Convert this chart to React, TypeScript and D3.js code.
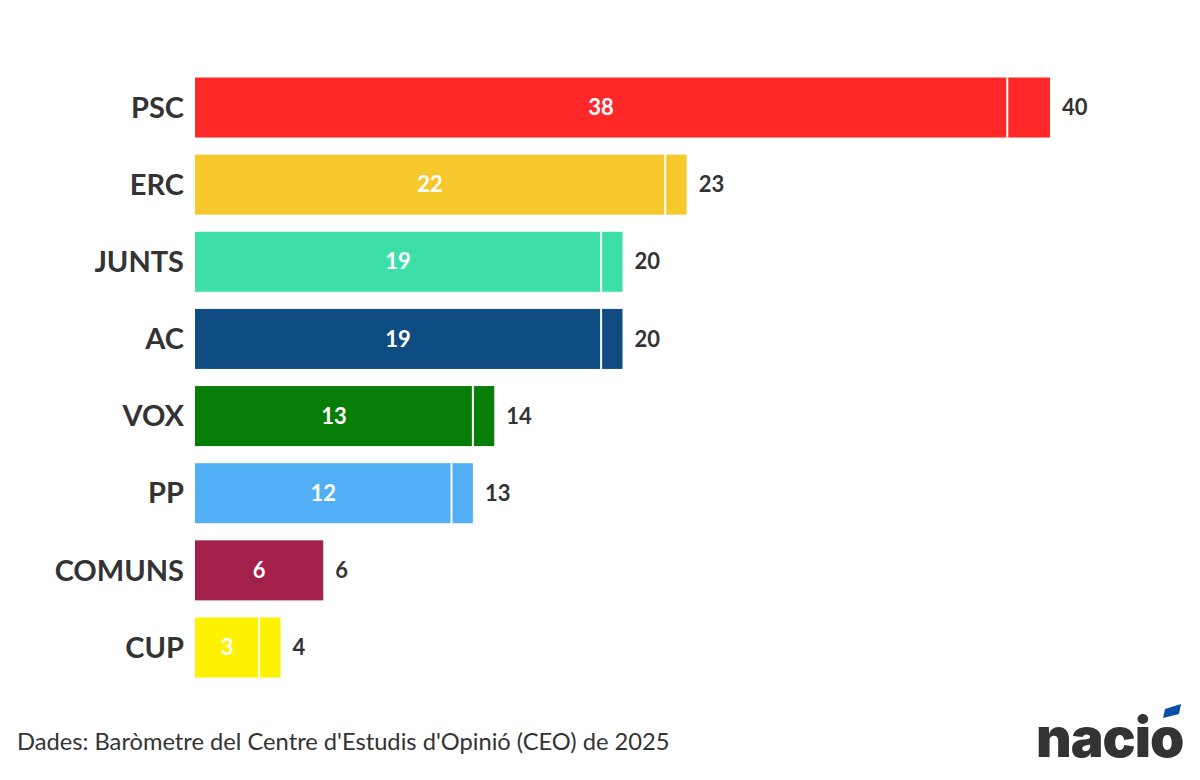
import * as d3 from "d3";
import { useEffect, useRef } from "react";

const parties = ["PSC", "ERC", "JUNTS", "AC", "VOX", "PP", "COMUNS", "CUP"];
const minSeats = [38, 22, 19, 19, 13, 12, 6, 3];
const maxSeats = [40, 23, 20, 20, 14, 13, 6, 4];
const colors = ["#fe2828", "#f5c92c", "#3ddfa9", "#0f4c81", "#067d06", "#52aef5", "#a3204a", "#fff200"];
const source = "Dades: Baròmetre del Centre d'Estudis d'Opinió (CEO) de 2025";

const App = () => {
  const svgRef = useRef<SVGSVGElement | null>(null);

  useEffect(() => {
    if (!svgRef.current) return;

    const width = 1200;
    const height = 780;
    const margin = { top: 77.5, bottom: 102.5, left: 195 };
    const textColor = "#333333";
    const font = "Lato, 'Source Sans Pro', sans-serif";

    const rows = parties.map((p, i) => ({
      party: p,
      min: minSeats[i],
      max: maxSeats[i],
      color: colors[i],
    }));

    const x = d3.scaleLinear().domain([0, 40]).range([margin.left, 1050]);
    const y = d3
      .scaleBand()
      .domain(parties)
      .range([margin.top, height - margin.bottom])
      .paddingInner(0.222)
      .paddingOuter(0);

    const svg = d3.select(svgRef.current);
    svg.selectAll("*").remove();
    svg.attr("viewBox", `0 0 ${width} ${height}`);

    svg.append("rect").attr("width", width).attr("height", height).attr("fill", "#fff");

    const row = svg
      .selectAll("g.row")
      .data(rows)
      .join("g")
      .attr("class", "row")
      .attr("transform", (d) => `translate(0,${y(d.party)})`);

    const bh = y.bandwidth();

    // full bar up to the max estimate
    row
      .append("rect")
      .attr("x", x(0))
      .attr("width", (d) => x(d.max) - x(0))
      .attr("height", bh)
      .attr("fill", (d) => d.color);

    // white separator at the min estimate
    row
      .filter((d) => d.max > d.min)
      .append("line")
      .attr("x1", (d) => x(d.min))
      .attr("x2", (d) => x(d.min))
      .attr("y1", 0)
      .attr("y2", bh)
      .attr("stroke", "#fff")
      .attr("stroke-width", 2);

    // party labels
    row
      .append("text")
      .attr("x", x(0) - 11)
      .attr("y", bh / 2)
      .attr("dy", "0.35em")
      .attr("text-anchor", "end")
      .attr("font-family", font)
      .attr("font-weight", 700)
      .attr("font-size", 29)
      .attr("fill", textColor)
      .text((d) => d.party);

    // min value inside bar
    row
      .append("text")
      .attr("x", (d) => (x(0) + x(d.min)) / 2)
      .attr("y", bh / 2)
      .attr("dy", "0.35em")
      .attr("text-anchor", "middle")
      .attr("font-family", font)
      .attr("font-weight", 700)
      .attr("font-size", 22)
      .attr("fill", "#fff")
      .text((d) => d.min);

    // max value after bar
    row
      .append("text")
      .attr("x", (d) => x(d.max) + 12)
      .attr("y", bh / 2)
      .attr("dy", "0.35em")
      .attr("font-family", font)
      .attr("font-weight", 700)
      .attr("font-size", 22)
      .attr("fill", textColor)
      .text((d) => d.max);

    // source note
    svg
      .append("text")
      .attr("x", 17)
      .attr("y", 750)
      .attr("font-family", font)
      .attr("font-size", 23.7)
      .attr("fill", textColor)
      .text(source);

    // logo
    const logo = svg.append("g").attr("transform", "translate(1036,757)");
    logo
      .append("text")
      .attr("font-family", "Inter, sans-serif")
      .attr("font-weight", 900)
      .attr("font-size", 55)
      .attr("letter-spacing", -1)
      .attr("fill", "#333")
      .text("nacio");
    logo
      .append("polygon")
      .attr("points", "129,-48 145,-53 143,-43 127,-39")
      .attr("fill", "#0d4fa8");
  }, []);

  return (
    <svg
      ref={svgRef}
      width={1200}
      height={780}
      style={{ position: "absolute", top: 0, left: 0, display: "block" }}
    ></svg>
  );
};

export default App;
